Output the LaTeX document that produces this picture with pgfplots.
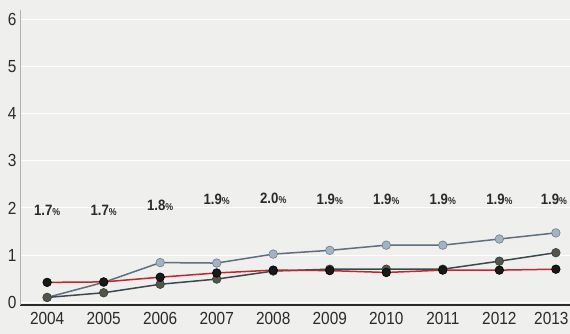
\documentclass[border=0pt]{standalone}
\usepackage{pgfplots}
\pgfplotsset{compat=1.18}
\usepackage{fontspec}
\setmainfont[FakeStretch=0.88]{Liberation Sans}
\definecolor{bg}{HTML}{EFEFED}
\definecolor{lightline}{HTML}{5E6F80}
\definecolor{lightmark}{HTML}{A3B3C3}
\definecolor{darkline}{HTML}{3A4850}
\definecolor{darkmark}{HTML}{50574A}
\definecolor{redline}{HTML}{C4262E}
\definecolor{txt}{HTML}{2A2A2A}
\newcommand{\pc}{{\fontsize{10}{10}\selectfont\%}}
\begin{document}
\begin{tikzpicture}
\fill[bg] (-20pt,-29pt) rectangle (550pt,305pt);
\useasboundingbox (-20pt,-29pt) rectangle (550pt,305pt);
\begin{axis}[
  at={(0,0)}, anchor=south west,
  scale only axis, width=550pt, height=295pt,
  xmin=-0.48, xmax=9.25, ymin=-0.06, ymax=6.2,
  xtick={0,...,9},
  xticklabels={2004,2005,2006,2007,2008,2009,2010,2011,2012,\hspace*{-9pt}2013},
  ytick={0,1,2,3,4,5,6},
  ymajorgrids, grid style={white, line width=1pt},
  major tick length=0pt,
  axis x line*=bottom, axis y line*=left,
  x axis line style={line width=2pt, txt, -},
  y axis line style={line width=0.5pt, gray!60, -},
  tick label style={font=\fontsize{17.5}{17.5}\selectfont, text=txt},
  xticklabel style={yshift=-4pt},
  yticklabel style={xshift=0pt},
  /pgf/number format/assume math mode=true,
  clip=false,
]
\addplot[lightline, line width=1.5pt, mark=*, mark size=4.3pt,
  mark options={fill=lightmark, draw=lightmark!70!black, line width=0.6pt}]
  coordinates {(0,0.10) (1,0.42) (2,0.84) (3,0.83) (4,1.02) (5,1.10) (6,1.21) (7,1.21) (8,1.34) (9,1.47)};
\addplot[darkline, line width=1.5pt, mark=*, mark size=4.3pt,
  mark options={fill=darkmark, draw=darkmark!70!black, line width=0.6pt}]
  coordinates {(0,0.10) (1,0.20) (2,0.38) (3,0.49) (4,0.66) (5,0.70) (6,0.70) (7,0.70) (8,0.87) (9,1.05)};
\addplot[redline, line width=1.5pt, mark=*, mark size=4.3pt,
  mark options={fill=black!90, draw=black, line width=0.6pt}]
  coordinates {(0,0.42) (1,0.43) (2,0.53) (3,0.62) (4,0.68) (5,0.67) (6,0.63) (7,0.68) (8,0.68) (9,0.70)};
\addplot[only marks, mark=none,
  nodes near coords, point meta=explicit symbolic,
  nodes near coords style={anchor=center, font=\bfseries\fontsize{15}{15}\selectfont, text=txt}]
  coordinates {(0,1.95)[1.7\pc] (1,1.95)[1.7\pc] (2,2.05)[1.8\pc]
    (3,2.18)[1.9\pc] (4,2.2)[2.0\pc] (5,2.18)[1.9\pc]
    (6,2.18)[1.9\pc] (7,2.18)[1.9\pc] (8,2.18)[1.9\pc] (9,2.18)[\hspace*{-4pt}1.9\pc]};
\end{axis}
\end{tikzpicture}
\end{document}
